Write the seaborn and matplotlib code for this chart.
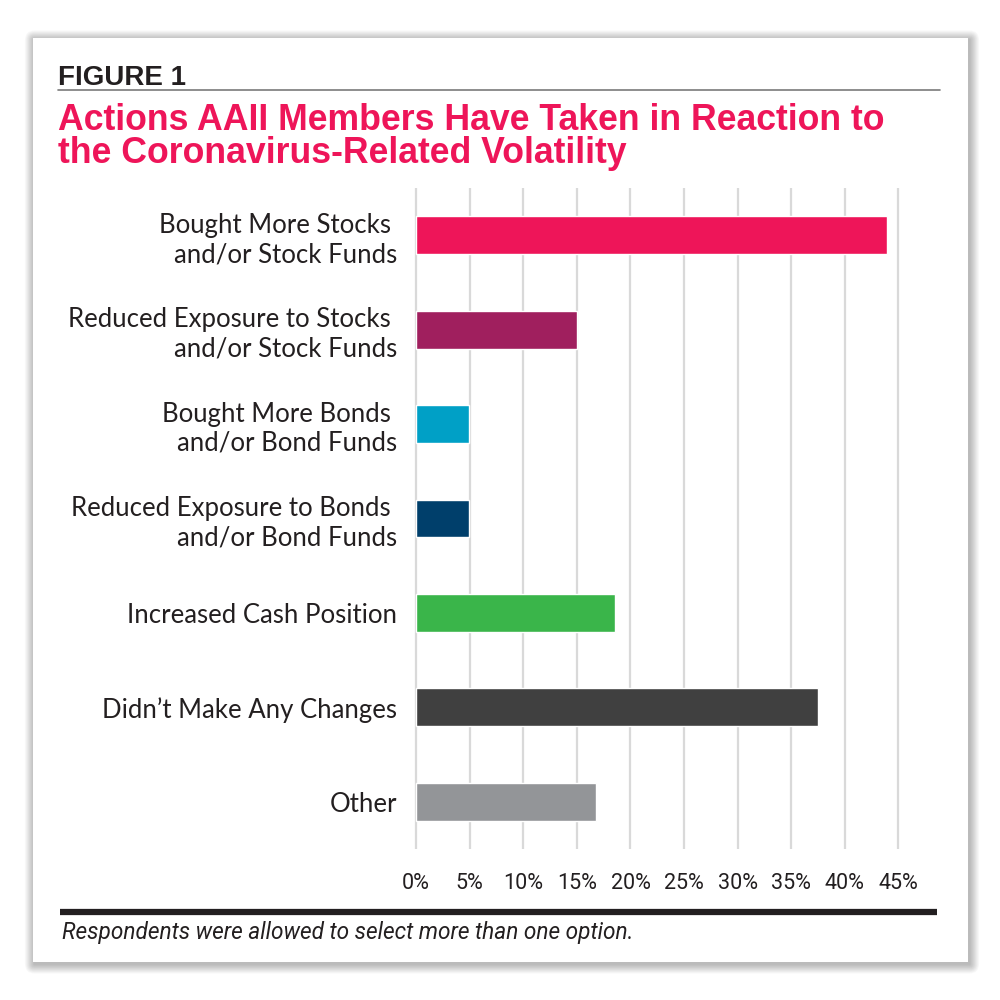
import matplotlib.pyplot as plt
import matplotlib.patches as mpatches
import matplotlib.lines as mlines
import seaborn as sns
import pandas as pd

# values (percent of respondents)
actions = [
    "Bought More Stocks \nand/or Stock Funds",
    "Reduced Exposure to Stocks \nand/or Stock Funds",
    "Bought More Bonds \nand/or Bond Funds",
    "Reduced Exposure to Bonds \nand/or Bond Funds",
    "Increased Cash Position",
    "Didn\u2019t Make Any Changes",
    "Other",
]
shares = [43.9, 15.0, 4.9, 4.9, 18.6, 37.5, 16.8]
bar_colors = ["#ee1559", "#a01f5e", "#00a0c6", "#003f6b", "#3ab54a", "#404040", "#939598"]
tick_vals = [0, 5, 10, 15, 20, 25, 30, 35, 40, 45]
tick_labels = [f"{v}%" for v in tick_vals]

title_1 = "Actions AAII Members Have Taken in Reaction to"
title_2 = "the Coronavirus-Related Volatility"
footnote = "Respondents were allowed to select more than one option."

sns.set_theme(style="white")
plt.rcParams["font.family"] = ["Lato", "DejaVu Sans"]

df = pd.DataFrame({"action": actions, "share": shares})

fig = plt.figure(figsize=(10, 10), dpi=100)
fig.patch.set_facecolor("white")

# card with a soft drop shadow
for k in range(12, 0, -1):
    fig.patches.append(mpatches.FancyBboxPatch(
        (0.033 + 0.0015, 0.038 - 0.002), 0.935, 0.924,
        boxstyle=f"round,pad={k * 0.0008}", transform=fig.transFigure,
        facecolor="black", edgecolor="none", alpha=0.022, zorder=0))
fig.patches.append(mpatches.Rectangle(
    (0.033, 0.038), 0.935, 0.924, transform=fig.transFigure,
    facecolor="white", edgecolor="none", zorder=1))

ax = fig.add_axes([0.4139, 0.151, 0.4867, 0.661])
ax.set_zorder(2)
ax.patch.set_alpha(0)

sns.barplot(data=df, x="share", y="action", hue="action", palette=bar_colors,
            orient="h", width=0.4, legend=False, saturation=1, ax=ax)

ax.set_xlim(-0.2, 45.2)
ax.set_xticks(tick_vals)
ax.set_xticklabels(tick_labels, family=["Roboto", "DejaVu Sans"],
                   fontsize=15.5, color="#231f20")
ax.tick_params(axis="x", length=0, pad=17)
ax.tick_params(axis="y", length=0, pad=12, labelsize=18.5, labelcolor="#231f20")
for lab in ax.get_yticklabels():
    lab.set_linespacing(1.22)
ax.set_xlabel("")
ax.set_ylabel("")
ax.grid(axis="x", color="#d9d9d9", lw=1.6)
ax.grid(axis="y", visible=False)
ax.set_axisbelow(True)
for s in ax.spines.values():
    s.set_visible(False)

# header
fig.text(0.058, 0.915, "FIGURE 1", family=["Liberation Sans", "DejaVu Sans"],
         weight="bold", fontsize=20, color="#231f20", va="baseline", zorder=3)
fig.lines.append(mlines.Line2D([0.058, 0.940], [0.910, 0.910], transform=fig.transFigure,
                               color="#7a7a7a", lw=1.2, zorder=3))
fig.text(0.058, 0.870, title_1, family=["Liberation Sans", "DejaVu Sans"],
         weight="bold", fontsize=25.7, color="#ee1559", va="baseline", zorder=3)
fig.text(0.058, 0.837, title_2, family=["Liberation Sans", "DejaVu Sans"],
         weight="bold", fontsize=25.7, color="#ee1559", va="baseline", zorder=3)

# footer
fig.lines.append(mlines.Line2D([0.060, 0.937], [0.088, 0.088], transform=fig.transFigure,
                               color="#231f20", lw=4.5, solid_capstyle="butt", zorder=3))
fig.text(0.062, 0.061, footnote, family=["Roboto", "DejaVu Sans"],
         style="italic", fontsize=16.3, color="#231f20", va="baseline", zorder=3)

fig.savefig("out.png", dpi=100, facecolor="white")
